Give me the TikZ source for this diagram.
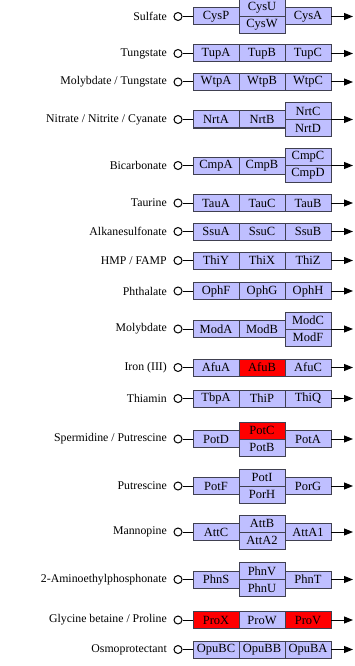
\documentclass[tikz,border=0pt]{standalone}
\usepackage{fontspec}
\setmainfont{Liberation Serif}
\usetikzlibrary{positioning,arrows.meta}

\definecolor{base}{HTML}{BFBFFF}
\definecolor{hit}{HTML}{FF0000}
\definecolor{rim}{HTML}{404050}

\tikzset{
    gene/.style={draw=rim, line width=1pt, minimum width=46pt, minimum height=17pt,
        inner sep=0pt, outer sep=0pt, text=black, font=\fontsize{12.5}{13}\selectfont},
    port/.style={circle, draw, line width=1pt, fill=white, minimum size=8pt, inner sep=0pt},
    substrate/.style={anchor=east, inner sep=0pt, font=\fontsize{11.8}{12}\selectfont},
    feed/.style={line width=1pt, -{Triangle[length=9pt,width=7pt]}},
    link/.style={line width=1pt},
}

\begin{document}
\begin{tikzpicture}[x=1pt, y=-1pt]
    \useasboundingbox (0,0) rectangle (355,666);

    % three single subunits in a row
    \foreach \id/\y/\lab/\a/\fa/\b/\fb/\c/\fc in {
        tup/53.5/Tungstate/TupA/base/TupB/base/TupC/base,
        wtp/82/{Molybdate / Tungstate}/WtpA/base/WtpB/base/WtpC/base,
        tau/203/Taurine/TauA/base/TauC/base/TauB/base,
        ssu/231.5/Alkanesulfonate/SsuA/base/SsuC/base/SsuB/base,
        thi/260.5/{HMP / FAMP}/ThiY/base/ThiX/base/ThiZ/base,
        oph/291/Phthalate/OphF/base/OphG/base/OphH/base,
        afu/367.5/{Iron (III)}/AfuA/base/AfuB/hit/AfuC/base,
        tbp/398.5/Thiamin/TbpA/base/ThiP/base/ThiQ/base,
        pro/620/{Glycine betaine / Proline}/ProX/hit/ProW/base/ProV/hit,
        opu/649.5/Osmoprotectant/OpuBC/base/OpuBB/base/OpuBA/base%
    }{
        \node[substrate] (\id-s) at (167,\y) {\lab};
        \node[port] (\id-o) at (178,\y) {};
        \node[gene, fill=\fa] (\id-1) at (216,\y) {\a};
        \node[gene, fill=\fb, right=0pt of \id-1] (\id-2) {\b};
        \node[gene, fill=\fc, right=0pt of \id-2] (\id-3) {\c};
        \coordinate (\id-e) at (353,\y);
        \draw[link] (\id-o) -- (\id-1);
        \draw[feed] (\id-3) -- (\id-e);
    }

    % middle subunit split in two
    \foreach \id/\y/\lab/\a/\fa/\b/\fb/\c/\fc/\d/\fd in {
        cys/16.5/Sulfate/CysP/base/CysU/base/CysW/base/CysA/base,
        pot/439/{Spermidine / Putrescine}/PotD/base/PotC/hit/PotB/base/PotA/base,
        por/486/Putrescine/PotF/base/PotI/base/PorH/base/PorG/base,
        att/532/Mannopine/AttC/base/AttB/base/AttA2/base/AttA1/base,
        phn/579.5/2-Aminoethylphosphonate/PhnS/base/PhnV/base/PhnU/base/PhnT/base%
    }{
        \node[substrate] (\id-s) at (167,\y) {\lab};
        \node[port] (\id-o) at (178,\y) {};
        \node[gene, fill=\fa] (\id-1) at (216,\y) {\a};
        \node[gene, fill=\fb, anchor=south west] (\id-2) at (\id-1.east) {\b};
        \node[gene, fill=\fc, below=0pt of \id-2] (\id-3) {\c};
        \node[gene, fill=\fd, anchor=west] (\id-4) at (\id-2.south east) {\d};
        \coordinate (\id-e) at (353,\y);
        \draw[link] (\id-o) -- (\id-1);
        \draw[feed] (\id-4) -- (\id-e);
    }

    % last subunit split in two
    \foreach \id/\y/\lab/\a/\b/\c/\d in {
        nrt/119.5/{Nitrate / Nitrite / Cyanate}/NrtA/NrtB/NrtC/NrtD,
        cmp/165.5/Bicarbonate/CmpA/CmpB/CmpC/CmpD,
        mod/329/Molybdate/ModA/ModB/ModC/ModF%
    }{
        \node[substrate] (\id-s) at (167,\y) {\lab};
        \node[port] (\id-o) at (178,\y) {};
        \node[gene, fill=base] (\id-1) at (216,\y) {\a};
        \node[gene, fill=base, right=0pt of \id-1] (\id-2) {\b};
        \node[gene, fill=base, anchor=south west] (\id-3) at (\id-2.east) {\c};
        \node[gene, fill=base, below=0pt of \id-3] (\id-4) {\d};
        \coordinate (\id-e) at (353,\y);
        \draw[link] (\id-o) -- (\id-1);
        \draw[feed] (\id-3.south east) -- (\id-e);
    }
\end{tikzpicture}
\end{document}
